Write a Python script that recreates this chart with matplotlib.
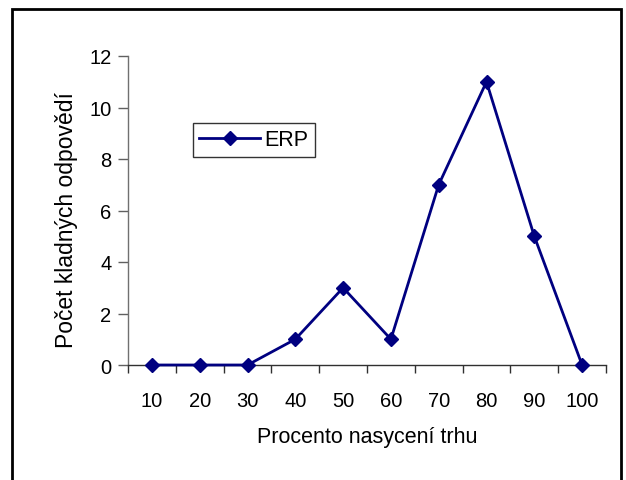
import numpy as np
import matplotlib.pyplot as plt
from matplotlib.patches import Rectangle

plt.rcParams['font.family'] = ['Liberation Sans', 'DejaVu Sans']

# data
procento = ['10', '20', '30', '40', '50', '60', '70', '80', '90', '100']
erp = [0, 0, 0, 1, 3, 1, 7, 11, 5, 0]

W, H = 626, 481
fig = plt.figure(figsize=(W / 100, H / 100), dpi=100)
ax = fig.add_axes([128 / W, 1 - 366 / H, (606 - 128) / W, (366 - 57) / H])

x = np.arange(len(procento))
ax.plot(x, erp, color='#000080', lw=2, marker='D', ms=7.5,
        mfc='#000080', mec='#000080', label='ERP', clip_on=False, zorder=5)

ax.set_xlim(-0.5, len(procento) - 0.5)
ax.set_ylim(0, 12)
ax.set_yticks(range(0, 13, 2))
ax.set_xticks(x)
ax.set_xticklabels(procento)
# tick marks between categories
ax.set_xticks(np.arange(-0.5, len(procento)), minor=True)
ax.tick_params(axis='x', which='major', length=0, pad=19, labelsize=14.5)
ax.tick_params(axis='x', which='minor', length=6, width=1, color='#303030', direction='out')
ax.tick_params(axis='y', length=7, width=1, color='#606060', direction='out', pad=5, labelsize=14.5)

for s in ['top', 'right']:
    ax.spines[s].set_visible(False)
ax.spines['left'].set_color('#707070')
ax.spines['bottom'].set_color('#303030')
ax.spines['left'].set_linewidth(1)
ax.spines['bottom'].set_linewidth(1)

ax.set_xlabel('Procento nasycení trhu', fontsize=15.5, va='center')
ax.xaxis.set_label_coords(0.5, (366 - 438) / (366 - 57))
ax.set_ylabel('Počet kladných odpovědí', fontsize=16.5, va='center')
ax.yaxis.set_label_coords((67 - 128) / (606 - 128), (366 - 220) / (366 - 57))

leg = ax.legend(loc='upper left', bbox_to_anchor=((193 - 128) / (606 - 128), 1 - (124 - 57) / (366 - 57)),
                fontsize=15.5, frameon=True, fancybox=False, borderaxespad=0,
                handlelength=2.8, handletextpad=0.2, borderpad=0.3)
leg.get_frame().set_edgecolor('black')
leg.get_frame().set_linewidth(1)

# outer chart frame
fig.patches.append(Rectangle((12 / W, -0.05), (621 - 12) / W, 1 - 10 / H + 0.05,
                             transform=fig.transFigure, fill=False,
                             edgecolor='black', lw=2))

fig.savefig('out.png', dpi=100)
